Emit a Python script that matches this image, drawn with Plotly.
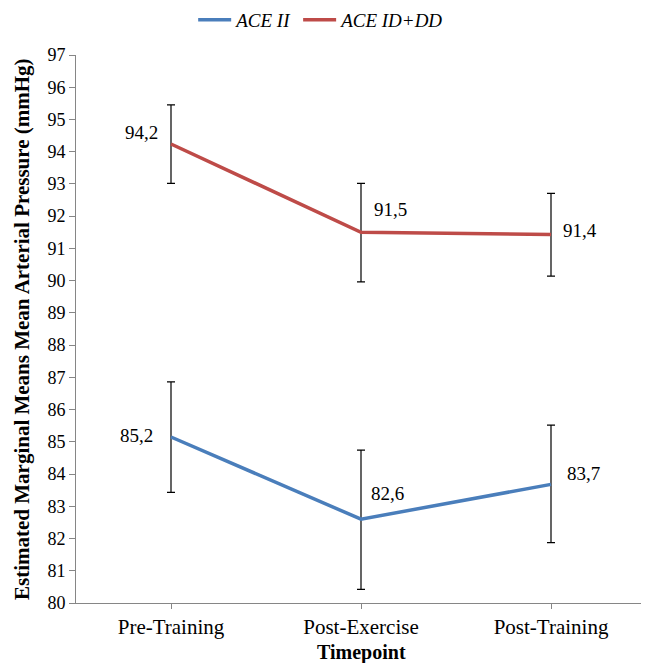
import plotly.graph_objects as go

categories = ["Pre-Training", "Post-Exercise", "Post-Training"]
ace_ii = [85.15, 82.6, 83.68]
ace_ii_hi = [86.86, 84.74, 85.52]
ace_ii_lo = [83.43, 80.42, 81.87]
ace_ii_labels = ["85,2", "82,6", "83,7"]

ace_dd = [94.24, 91.5, 91.43]
ace_dd_hi = [95.45, 93.02, 92.71]
ace_dd_lo = [93.02, 89.96, 90.14]
ace_dd_labels = ["94,2", "91,5", "91,4"]

y_ticks = list(range(80, 98))

FONT = "Liberation Serif, Times New Roman, serif"
BLUE = "#4A7EBB"
RED = "#BE4B48"

fig = go.Figure()

def add_series(name, vals, hi, lo, color):
    fig.add_trace(go.Scatter(
        x=list(range(len(categories))), y=vals, mode="lines", name=f"<i>{name}</i>",
        line=dict(color=color, width=3.5),
        error_y=dict(type="data", symmetric=False,
                     array=[h - v for h, v in zip(hi, vals)],
                     arrayminus=[v - l for v, l in zip(vals, lo)],
                     color="black", thickness=1.2, width=4),
    ))

add_series("ACE II", ace_ii, ace_ii_hi, ace_ii_lo, BLUE)
add_series("ACE ID+DD", ace_dd, ace_dd_hi, ace_dd_lo, RED)

shifts_ii = [(-35, 1), (26, 26), (32, 11)]
shifts_dd = [(-30, 11), (29, 23), (29, 4)]
for vals, labels, shifts in [(ace_ii, ace_ii_labels, shifts_ii), (ace_dd, ace_dd_labels, shifts_dd)]:
    for i, (v, t) in enumerate(zip(vals, labels)):
        fig.add_annotation(x=i, y=v, text=t, showarrow=False,
                           xshift=shifts[i][0], yshift=shifts[i][1],
                           font=dict(family=FONT, size=19, color="black"))

fig.add_annotation(xref="paper", yref="paper", x=0.5, y=0, yshift=-49, showarrow=False,
                   text="<b>Timepoint</b>", font=dict(family=FONT, size=20, color="black"),
                   yanchor="middle")
fig.add_annotation(xref="paper", yref="paper", x=0, xshift=-54, y=0.5, showarrow=False,
                   textangle=-90,
                   text="<b>Estimated Marginal Means Mean Arterial Pressure (mmHg)</b>",
                   font=dict(family=FONT, size=21, color="black"),
                   xanchor="center")

fig.update_layout(
    width=641, height=655,
    margin=dict(l=68, r=3, t=47, b=60, autoexpand=False),
    paper_bgcolor="white", plot_bgcolor="white",
    font=dict(family=FONT, size=19, color="black"),
    showlegend=True,
    legend=dict(orientation="h", x=0.431, xanchor="center", y=0.982, yanchor="middle",
                yref="container",
                font=dict(family=FONT, size=19), itemwidth=33,
                traceorder="normal"),
    xaxis=dict(range=[-0.5, 2.5], tickmode="array",
               tickvals=list(range(len(categories))), ticktext=categories,
               tickfont=dict(family=FONT, size=21),
               showline=True, linecolor="#868686", linewidth=1,
               ticks="outside", ticklen=5, tickcolor="#868686",
               showgrid=False, zeroline=False, automargin=False),
    yaxis=dict(range=[80, 97], tickmode="array", tickvals=y_ticks,
               tickfont=dict(family=FONT, size=18),
               showline=True, linecolor="#868686", linewidth=1,
               ticks="outside", ticklen=6, tickcolor="#868686",
               showgrid=False, zeroline=False, automargin=False),
)

fig.write_html("out.html")
